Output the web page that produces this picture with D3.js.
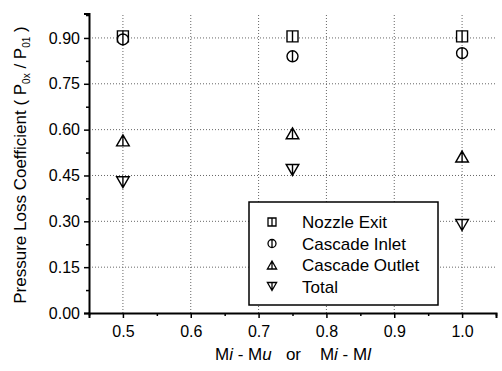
<!DOCTYPE html>
<html lang="en">
<head>
<meta charset="utf-8">
<title>Pressure Loss Coefficient</title>
<script src="https://d3js.org/d3.v7.min.js"></script>
<style>
  body { margin: 0; background: #fff; }
  svg { font-family: Arial, "Liberation Sans", sans-serif; }
  .grid line { stroke: #666; stroke-dasharray: 1 2; stroke-width: 1; }
</style>
</head>
<body>
<script>
// data
var xValues = [0.5, 0.75, 1.0];
var nozzleExit = [0.905, 0.905, 0.905];
var cascadeInlet = [0.895, 0.84, 0.85];
var cascadeOutlet = [0.565, 0.588, 0.512];
var total = [0.428, 0.468, 0.288];
var seriesNames = ["Nozzle Exit", "Cascade Inlet", "Cascade Outlet", "Total"];
var seriesShapes = ["square", "circle", "up", "down"];
var xTicks = [0.5, 0.6, 0.7, 0.8, 0.9, 1.0];
var yTicks = [0.00, 0.15, 0.30, 0.45, 0.60, 0.75, 0.90];

var allSeries = [nozzleExit, cascadeInlet, cascadeOutlet, total];

var width = 502, height = 371;
var svg = d3.select("body").append("svg")
  .attr("width", width).attr("height", height);

var x = d3.scaleLinear().domain([0.45, 1.05]).range([89, 496]);
var y = d3.scaleLinear().domain([0, 0.98]).range([313, 13.5]);

// grid
var grid = svg.append("g").attr("class", "grid");
grid.selectAll(".gx").data(xTicks).enter().append("line")
  .attr("x1", d => x(d)).attr("x2", d => x(d))
  .attr("y1", y.range()[0]).attr("y2", y.range()[1]);
grid.selectAll(".gy").data(yTicks.slice(1)).enter().append("line")
  .attr("x1", x.range()[0]).attr("x2", x.range()[1])
  .attr("y1", d => y(d)).attr("y2", d => y(d));

// minor ticks
var xMinor = d3.range(0.45, 1.051, 0.05).filter(v => xTicks.every(t => Math.abs(t - v) > 1e-6));
var yMinor = d3.range(0.075, 0.98, 0.15);

svg.append("g").attr("transform", "translate(0," + y(0) + ")")
  .call(d3.axisBottom(x).tickValues(xTicks).tickFormat(d3.format(".1f")).tickSizeOuter(0).tickSize(5).tickPadding(8));
svg.append("g").attr("transform", "translate(0," + y(0) + ")")
  .call(d3.axisBottom(x).tickValues(xMinor).tickFormat("").tickSizeOuter(0).tickSize(3))
  .select(".domain").remove();

svg.append("g").attr("transform", "translate(" + x(0.45) + ",0)")
  .call(d3.axisLeft(y).tickValues(yTicks).tickFormat(d3.format(".2f")).tickSizeOuter(0).tickSize(5).tickPadding(4));
svg.append("g").attr("transform", "translate(" + x(0.45) + ",0)")
  .call(d3.axisLeft(y).tickValues(yMinor).tickFormat("").tickSizeOuter(0).tickSize(3))
  .select(".domain").remove();

svg.selectAll(".domain").attr("stroke", "#000").attr("stroke-width", 2);
svg.selectAll(".tick line").attr("stroke", "#000").attr("stroke-width", 1.5);
svg.selectAll(".tick text").attr("font-size", 16).attr("fill", "#000")
  .attr("font-family", "Arial, 'Liberation Sans', sans-serif");

// marker shapes (each with a vertical centre line)
function markerPath(shape, s) {
  var h = s / 2;
  if (shape === "square") {
    return "M" + (-h) + "," + (-h) + "H" + h + "V" + h + "H" + (-h) + "Z M0," + (-h) + "V" + h;
  } else if (shape === "circle") {
    return "M" + h + ",0A" + h + "," + h + " 0 1,1 " + (-h) + ",0A" + h + "," + h + " 0 1,1 " + h + ",0Z M0," + (-h) + "V" + h;
  } else if (shape === "up") {
    var w = h * 1.15;
    return "M0," + (-h) + "L" + w + "," + h + "L" + (-w) + "," + h + "Z M0," + (-h) + "V" + h;
  } else {
    var w2 = h * 1.15;
    return "M0," + h + "L" + w2 + "," + (-h) + "L" + (-w2) + "," + (-h) + "Z M0," + (-h) + "V" + h;
  }
}

allSeries.forEach(function (vals, i) {
  svg.append("g").selectAll("path").data(vals).enter().append("path")
    .attr("transform", (d, j) => "translate(" + x(xValues[j]) + "," + y(d) + ")")
    .attr("d", markerPath(seriesShapes[i], 11))
    .attr("fill", "#fff").attr("stroke", "#000").attr("stroke-width", 1.4);
});

// legend
var lg = svg.append("g");
lg.append("rect").attr("x", 249).attr("y", 202).attr("width", 189).attr("height", 103)
  .attr("fill", "#fff").attr("stroke", "#000").attr("stroke-width", 1.5);
seriesNames.forEach(function (name, i) {
  var ly = 222 + i * 21.5;
  lg.append("path").attr("transform", "translate(272," + ly + ")")
    .attr("d", markerPath(seriesShapes[i], 8))
    .attr("fill", "#fff").attr("stroke", "#000").attr("stroke-width", 1.3);
  lg.append("text").attr("x", 302).attr("y", ly + 6).attr("font-size", 17).text(name);
});

// axis titles
var xt = svg.append("text").attr("x", 293).attr("y", 360).attr("text-anchor", "middle").attr("font-size", 17);
xt.append("tspan").text("M");
xt.append("tspan").attr("font-style", "italic").text("i");
xt.append("tspan").text(" - M");
xt.append("tspan").attr("font-style", "italic").text("u");
xt.append("tspan").text("\u00a0\u00a0\u00a0or\u00a0\u00a0\u00a0\u00a0M");
xt.append("tspan").attr("font-style", "italic").text("i");
xt.append("tspan").text(" - M");
xt.append("tspan").attr("font-style", "italic").text("l");

var yt = svg.append("text").attr("transform", "translate(26,165) rotate(-90)")
  .attr("text-anchor", "middle").attr("font-size", 17);
yt.append("tspan").text("Pressure Loss Coefficient ( P");
yt.append("tspan").attr("font-size", 10).attr("dy", 4).text("0x");
yt.append("tspan").attr("dy", -4).text(" / P");
yt.append("tspan").attr("font-size", 10).attr("dy", 4).text("01");
yt.append("tspan").attr("dy", -4).text(" )");
</script>
</body>
</html>
